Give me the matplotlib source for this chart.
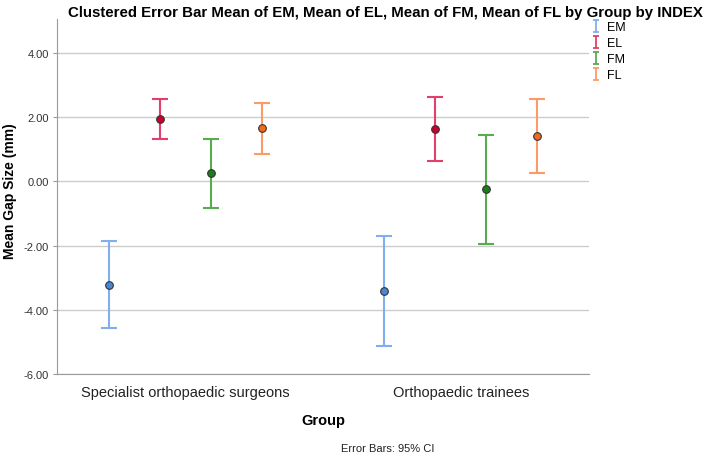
import numpy as np
import matplotlib.pyplot as plt
from matplotlib.path import Path
from matplotlib.lines import Line2D

plt.rcParams['font.family'] = ['Liberation Sans', 'DejaVu Sans']

groups = ['Specialist orthopaedic surgeons', 'Orthopaedic trainees']
series = ['EM', 'EL', 'FM', 'FL']

# means and 95% CI bounds (per group)
means = {
    'EM': [-3.22, -3.43],
    'EL': [1.95, 1.62],
    'FM': [0.25, -0.25],
    'FL': [1.65, 1.40],
}
upper = {
    'EM': [-1.87, -1.69],
    'EL': [2.56, 2.61],
    'FM': [1.32, 1.44],
    'FL': [2.45, 2.56],
}
lower = {
    'EM': [-4.57, -5.12],
    'EL': [1.33, 0.64],
    'FM': [-0.83, -1.94],
    'FL': [0.85, 0.26],
}

bar_colors = {'EM': '#80aef0', 'EL': '#e2406a', 'FM': '#5aaa50', 'FL': '#ff9a66'}
dot_colors = {'EM': '#4a86d6', 'EL': '#c8002e', 'FM': '#1e7a1e', 'FL': '#f06a1e'}

# I-beam marker for the legend
cap = Path([(-0.6, 1), (0.6, 1), (0, 1), (0, -1), (-0.6, -1), (0.6, -1)],
           [Path.MOVETO, Path.LINETO, Path.MOVETO, Path.LINETO, Path.MOVETO, Path.LINETO])

fig = plt.figure(figsize=(7.08, 4.56), dpi=100)
ax = fig.add_axes([0.0805, 0.1776, 0.7515, 0.7784])

x = np.arange(len(groups))
step = 0.185
for i, s in enumerate(series):
    xs = x + (i - 1.5) * step
    m = np.array(means[s])
    err = [m - np.array(lower[s]), np.array(upper[s]) - m]
    ax.errorbar(xs, m, yerr=err, fmt='none', ecolor=bar_colors[s],
                elinewidth=1.5, capsize=6, capthick=1.5, zorder=3)
    ax.plot(xs, m, 'o', color=dot_colors[s], markeredgecolor='#333333',
            markeredgewidth=0.8, markersize=5.5, zorder=4)

ax.set_xlim(-0.466, 1.465)
ax.set_ylim(-6, 5.05)
ax.set_yticks([-6, -4, -2, 0, 2, 4])
ax.set_yticklabels(['%.2f' % v for v in [-6, -4, -2, 0, 2, 4]])
ax.set_xticks(x)
ax.set_xticklabels(groups, fontsize=10.5, color='#222222')
ax.tick_params(axis='x', length=0, pad=8)
ax.tick_params(axis='y', length=3, color='#999999', labelsize=8, labelcolor='#333333', pad=3)
ax.yaxis.grid(True, color='#cccccc', linewidth=1)
ax.set_axisbelow(True)
for sp in ['top', 'right']:
    ax.spines[sp].set_visible(False)
ax.spines['left'].set_color('#999999')
ax.spines['bottom'].set_color('#999999')

ax.set_ylabel('Mean Gap Size (mm)', fontsize=10, fontweight='bold')
ax.yaxis.set_label_coords(-0.075, 0.517)
ax.set_xlabel('Group', fontsize=10.5, fontweight='bold', labelpad=10)

fig.text(0.545, 0.972, 'Clustered Error Bar Mean of EM, Mean of EL, Mean of FM, Mean of FL by Group by INDEX',
         ha='center', va='center', fontsize=10.8, fontweight='bold')
fig.text(0.548, 0.004, 'Error Bars: 95% CI', ha='center', va='bottom', fontsize=8, color='#222222')

handles = [Line2D([], [], linestyle='none', marker=cap, markersize=8,
                  markeredgecolor=bar_colors[s], markerfacecolor='none', markeredgewidth=1.3)
           for s in series]
fig.legend(handles, series, loc='upper left', bbox_to_anchor=(0.828, 0.962), frameon=False,
           fontsize=9, handlelength=0.8, handletextpad=0.5, labelspacing=0.32, borderaxespad=0)

fig.savefig('out.png', dpi=100)
